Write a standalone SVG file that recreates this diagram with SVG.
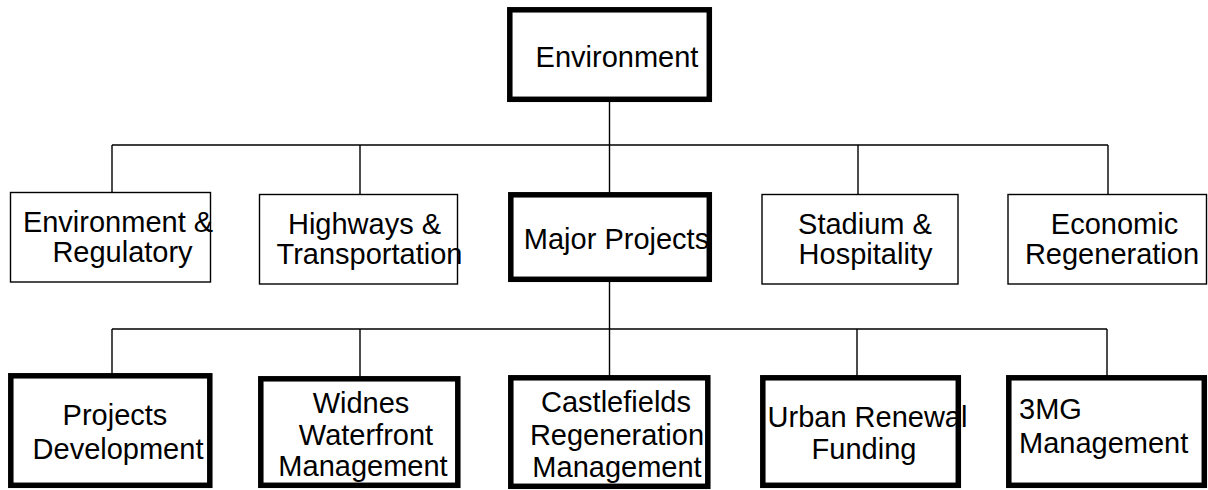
<svg xmlns="http://www.w3.org/2000/svg" width="1208" height="490" viewBox="0 0 1208 490">
<style>
.thin{fill:#fff;stroke:#000;stroke-width:1.4}
.thick{fill:#fff;stroke:#000;stroke-width:5.5}
.t{font-family:"Liberation Sans",Arial,sans-serif;font-size:29px;fill:#000}
.m{text-anchor:middle}
.c{stroke:#000;stroke-width:1.4;fill:none}
</style>
<rect width="1208" height="490" fill="#fff"/>
<g id="connectors">
<path class="c" d="M609.5 102V194M112 145H1108M112 145V193M360 145V195M858 145V195M1108 145V195"/>
<path class="c" d="M609.5 282V376M112 329H1107M112 329V375M360 329V377M857 329V377M1107 329V377"/>
</g>
<g id="n-environment">
<rect class="thick" x="509.8" y="9.8" width="199.5" height="89.5"/>
<text class="t m" x="617" y="67">Environment</text>
</g>
<g id="n-env-reg">
<rect class="thin" x="10.5" y="192.5" width="200" height="89.5"/>
<text class="t m" x="118" y="232">Environment &amp;</text>
<text class="t m" x="122.5" y="262">Regulatory</text>
</g>
<g id="n-highways">
<rect class="thin" x="259.5" y="194.5" width="198" height="89.5"/>
<text class="t m" x="364.5" y="234">Highways &amp;</text>
<text class="t m" x="369.5" y="264">Transportation</text>
</g>
<g id="n-major">
<rect class="thick" x="510.8" y="194.8" width="198.5" height="84.5"/>
<text class="t m" x="616.5" y="249">Major Projects</text>
</g>
<g id="n-stadium">
<rect class="thin" x="762" y="194.5" width="196" height="89.5"/>
<text class="t m" x="865" y="234">Stadium &amp;</text>
<text class="t m" x="865.5" y="264">Hospitality</text>
</g>
<g id="n-economic">
<rect class="thin" x="1008" y="194.5" width="198.5" height="89.5"/>
<text class="t m" x="1114.5" y="234">Economic</text>
<text class="t m" x="1112" y="264">Regeneration</text>
</g>
<g id="n-projects-dev">
<rect class="thick" x="10.8" y="375.8" width="199" height="109.5"/>
<text class="t m" x="115" y="425">Projects</text>
<text class="t m" x="118" y="459">Development</text>
</g>
<g id="n-widnes">
<rect class="thick" x="260.8" y="378.8" width="197" height="106.5"/>
<text class="t m" x="361" y="413">Widnes</text>
<text class="t m" x="366" y="445">Waterfront</text>
<text class="t m" x="363" y="476">Management</text>
</g>
<g id="n-castlefields">
<rect class="thick" x="510.8" y="377.8" width="197" height="108.5"/>
<text class="t m" x="616" y="412">Castlefields</text>
<text class="t m" x="617" y="445">Regeneration</text>
<text class="t m" x="617" y="477">Management</text>
</g>
<g id="n-urban">
<rect class="thick" x="762.8" y="377.8" width="195.5" height="107.5"/>
<text class="t m" x="867.5" y="427">Urban Renewal</text>
<text class="t m" x="864" y="459">Funding</text>
</g>
<g id="n-3mg">
<rect class="thick" x="1008.8" y="377.8" width="195.5" height="107.5"/>
<text class="t" x="1019" y="419">3MG</text>
<text class="t" x="1019" y="453">Management</text>
</g>
</svg>
